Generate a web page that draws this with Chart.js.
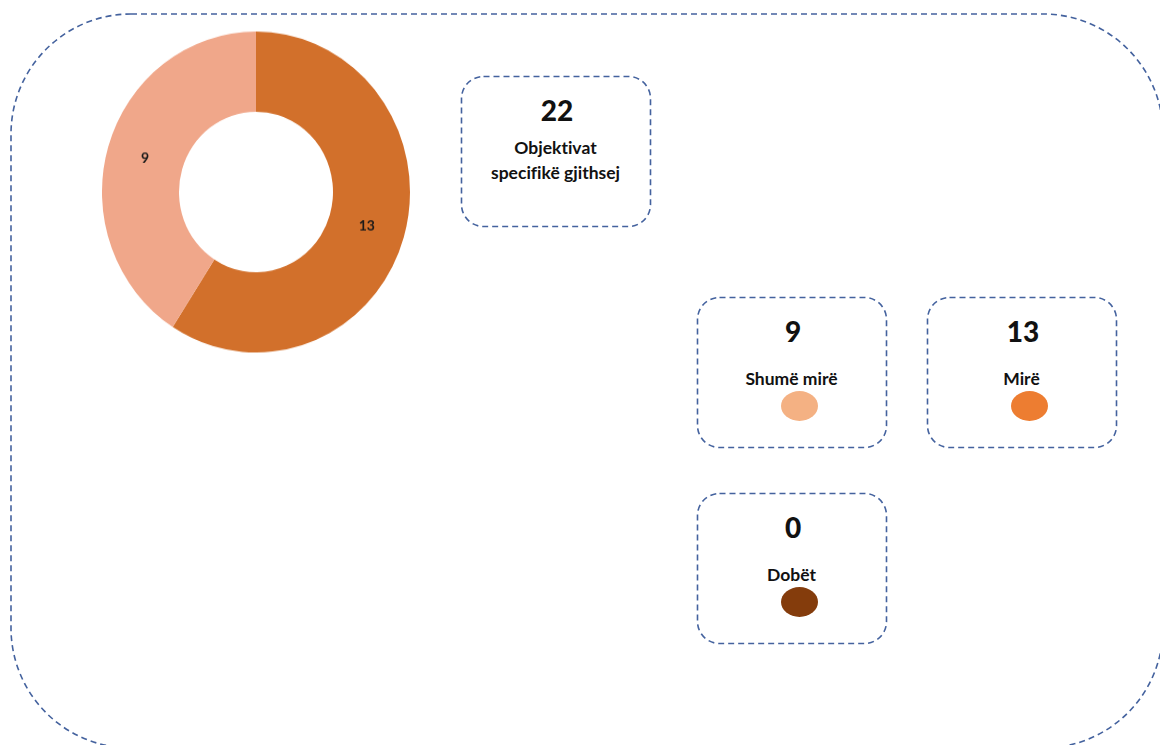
<!DOCTYPE html>
<html>
<head>
<meta charset="utf-8">
<script src="https://cdn.jsdelivr.net/npm/chart.js@4/dist/chart.umd.min.js"></script>
<style>
    html, body { margin: 0; padding: 0; background: #fff; }
    body { width: 1160px; height: 745px; position: relative; overflow: hidden; font-family: Lato, "Open Sans", sans-serif; color: #111; font-variant-ligatures: none; }
    #frame { position: absolute; left: 0; top: 0; }
    #chart-wrap { position: absolute; left: 102px; top: 38px; width: 308px; height: 308px; transform: scale(1, 1.042); transform-origin: 50% 50%; }
    .card { position: absolute; width: 189px; height: 150px; text-align: center; }
    .card .num { position: absolute; left: 3px; right: 0; font-weight: 900; font-size: 28px; line-height: 30px; }
    .card .lbl { position: absolute; left: 0; right: 0; font-weight: bold; font-size: 17.5px; line-height: 25px; }
    .card .dot { position: absolute; width: 37px; height: 30px; border-radius: 50%; }
</style>
</head>
<body>
<svg id="frame" width="1160" height="745"></svg>
<div id="chart-wrap"><canvas id="myChart"></canvas></div>
<div id="cards"></div>

<script>
'use strict';

var categories = ['Mirë', 'Shumë mirë', 'Dobët'];
var counts = [13, 9, 0];
var sliceColors = ['#D2702B', '#F0A78A', '#843C0C'];
var dotColors = ['#ED7D31', '#F4B183', '#843C0C'];
var totalLabel = ['Objektivat', 'specifikë gjithsej'];

(function () {
    var svgNS = 'http://www.w3.org/2000/svg';
    var frame = document.getElementById('frame');
    var cardsDiv = document.getElementById('cards');

    function dashedBox(x, y, w, h, r) {
        var rect = document.createElementNS(svgNS, 'rect');
        rect.setAttribute('x', x);
        rect.setAttribute('y', y);
        rect.setAttribute('width', w);
        rect.setAttribute('height', h);
        rect.setAttribute('rx', r);
        rect.setAttribute('fill', 'none');
        rect.setAttribute('stroke', '#44629E');
        rect.setAttribute('stroke-width', '1.6');
        rect.setAttribute('stroke-dasharray', '6 4');
        frame.appendChild(rect);
    }

    function addCard(x, y, value, lines, dotColor) {
        var card = document.createElement('div');
        var html = '<div class="num" style="top:19px">' + value + '</div>';
        var i;
        card.className = 'card';
        card.style.left = x + 'px';
        card.style.top = y + 'px';
        for (i = 0; i < lines.length; i++) {
            html += '<div class="lbl" style="top:' + (dotColor ? 69 : 59 + i * 25) + 'px">' + lines[i] + '</div>';
        }
        if (dotColor) {
            html += '<div class="dot" style="left:84px;top:94px;background:' + dotColor + '"></div>';
        }
        card.innerHTML = html;
        cardsDiv.appendChild(card);
        dashedBox(x + 0.5, y + 0.5, 189, 150, 22);
    }

    // outer frame
    dashedBox(11, 14, 1152, 734, 120);

    var total = counts.reduce(function (a, b) { return a + b; }, 0);
    addCard(461, 76, total, totalLabel, null);
    addCard(697, 297, counts[1], [categories[1]], dotColors[1]);
    addCard(927, 297, counts[0], [categories[0]], dotColors[0]);
    addCard(697, 493, counts[2], [categories[2]], dotColors[2]);

    var sliceLabels = {
        id: 'sliceLabels',
        afterDatasetsDraw: function (chart) {
            var ctx = chart.ctx;
            var meta = chart.getDatasetMeta(0);
            ctx.save();
            ctx.font = 'bold 14px Lato, "Open Sans", sans-serif';
            ctx.fillStyle = '#1a1a1a';
            ctx.textAlign = 'center';
            ctx.textBaseline = 'middle';
            meta.data.forEach(function (arc, i) {
                if (!counts[i]) return;
                var p = arc.tooltipPosition();
                ctx.fillText(String(counts[i]), p.x, p.y);
            });
            ctx.restore();
        }
    };

    new Chart(document.getElementById('myChart'), {
        type: 'doughnut',
        data: {
            labels: categories,
            datasets: [{
                data: counts,
                backgroundColor: sliceColors,
                borderWidth: 0
            }]
        },
        options: {
            responsive: true,
            maintainAspectRatio: false,
            animation: false,
            cutout: '50%',
            layout: { padding: 0 },
            plugins: {
                legend: { display: false },
                tooltip: { enabled: false }
            }
        },
        plugins: [sliceLabels]
    });
})();
</script>
</body>
</html>
